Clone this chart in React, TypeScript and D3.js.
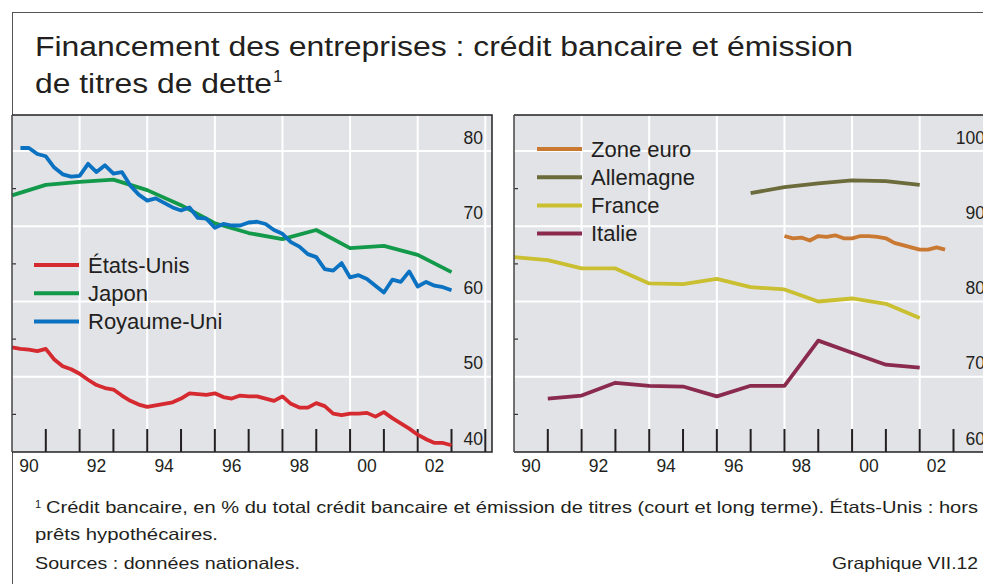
import React from "react";
import * as d3 from "d3";

// --- data ---
const quarterStart = 1990; // first quarterly point
const usaQ = [53.9, 53.7, 53.6, 53.4, 53.7, 52.3, 51.4, 51.0, 50.4, 49.6, 48.9, 48.5, 48.3, 47.5, 46.8, 46.3, 46.0, 46.2, 46.4, 46.6, 47.1, 47.8, 47.7, 47.6, 47.8, 47.3, 47.1, 47.5, 47.4, 47.4, 47.1, 46.8, 47.4, 46.4, 45.9, 45.9, 46.5, 46.1, 45.1, 44.9, 45.1, 45.1, 45.2, 44.7, 45.3, 44.5, 43.8, 43.1, 42.3, 41.7, 41.2, 41.2, 40.9];
const ukStart = 1990.25;
const ukQ = [80.4, 80.4, 79.6, 79.3, 77.8, 76.9, 76.6, 76.7, 78.3, 77.2, 78.1, 77.0, 77.2, 75.4, 74.2, 73.4, 73.7, 73.1, 72.5, 72.1, 72.5, 71.1, 71.0, 69.8, 70.3, 70.1, 70.1, 70.5, 70.6, 70.3, 69.5, 69.0, 67.9, 67.3, 66.3, 65.9, 64.3, 64.1, 65.1, 63.2, 63.5, 63.0, 62.1, 61.2, 62.9, 62.6, 64.0, 62.0, 62.6, 62.1, 61.9, 61.5];
const japanYears = [1990, 1991, 1992, 1993, 1994, 1995, 1996, 1997, 1998, 1999, 2000, 2001, 2002, 2003];
const japanA = [74.1, 75.5, 75.9, 76.2, 74.8, 72.8, 70.4, 69.1, 68.3, 69.5, 67.1, 67.4, 66.2, 63.9];

const franceYears = [1990, 1991, 1992, 1993, 1994, 1995, 1996, 1997, 1998, 1999, 2000, 2001, 2002];
const franceA = [85.9, 85.5, 84.4, 84.4, 82.4, 82.3, 83.0, 81.9, 81.6, 80.0, 80.4, 79.7, 77.8];
const germanyYears = [1997, 1998, 1999, 2000, 2001, 2002];
const germanyA = [94.4, 95.2, 95.7, 96.1, 96.0, 95.5];
const italyYears = [1991, 1992, 1993, 1994, 1995, 1996, 1997, 1998, 1999, 2000, 2001, 2002];
const italyA = [67.1, 67.5, 69.2, 68.8, 68.7, 67.4, 68.8, 68.8, 74.8, 73.2, 71.6, 71.2];
const euroStart = 1998;
const euroQ = [88.7, 88.4, 88.5, 88.1, 88.7, 88.6, 88.8, 88.4, 88.4, 88.7, 88.7, 88.6, 88.4, 87.8, 87.5, 87.2, 86.9, 86.9, 87.2, 86.9];

const yearLabels = [1990, 1992, 1994, 1996, 1998, 2000, 2002];
const leftTicks = [50, 60, 70, 80];
const rightTicks = [70, 80, 90, 100];
const leftMinor = [45, 55, 65, 75];
const rightMinor = [65, 75, 85, 95];

type Pt = [number, number];
const quarterly = (start: number, vals: number[]): Pt[] => vals.map((v, i) => [start + i / 4, v]);
const annual = (years: number[], vals: number[]): Pt[] => vals.map((v, i) => [years[i], v]);

const TEXT = "#231f20";
const FONT = "'Liberation Sans', Arial, sans-serif";
const PANEL = "#e2e3e7";
const TOP = 115;
const BOTTOM = 452;

interface Series { name: string; color: string; pts: Pt[] }

function Panel(props: {
  left: number; right: number; plotEnd: number; labelX: number;
  yDomain: [number, number]; ticks: number[]; minor: number[]; bottomLabel: number;
  series: Series[]; legend: Series[]; legendX: number; legendY: number;
}) {
  const { left, right, plotEnd, labelX, yDomain, ticks, minor, bottomLabel, series, legend, legendX, legendY } = props;
  const x = d3.scaleLinear().domain([1990, 2003]).range([left, plotEnd]);
  const y = d3.scaleLinear().domain(yDomain).range([BOTTOM, 151]);
  const line = d3.line<Pt>().x((d) => x(d[0])).y((d) => y(d[1]));
  const gridYears = d3.range(1992, 2005, 2).filter((yr) => x(yr) < right - 2);
  const tickYears = d3.range(1991, 2005).filter((yr) => x(yr) < right - 2);

  return (
    <g>
      <rect x={left} y={TOP} width={right - left} height={BOTTOM - TOP} fill={PANEL} />
      {gridYears.map((yr) => (
        <line key={"gx" + yr} x1={x(yr)} x2={x(yr)} y1={TOP} y2={BOTTOM} stroke="#fff" strokeWidth={2} />
      ))}
      {ticks.map((t) => (
        <line key={"gy" + t} x1={left} x2={right} y1={y(t)} y2={y(t)} stroke="#fff" strokeWidth={2} />
      ))}
      {minor.map((t) => (
        <line key={"mn" + t} x1={left} x2={left + 4} y1={y(t)} y2={y(t)} stroke="#333" strokeWidth={1.2} />
      ))}
      {tickYears.map((yr) => (
        <line key={"tk" + yr} x1={x(yr)} x2={x(yr)} y1={429} y2={BOTTOM} stroke="#231f20" strokeWidth={2} />
      ))}
      {[...ticks, bottomLabel].map((t) => (
        <text key={"yl" + t} x={labelX} y={y(t) - 7.5} textAnchor="end" fontSize={17.5} fill={TEXT}>
          {t}
        </text>
      ))}
      {series.map((s) => (
        <path key={s.name} d={line(s.pts) || ""} fill="none" stroke={s.color} strokeWidth={3.8}
          strokeLinejoin="round" strokeLinecap="butt" />
      ))}
      {legend.map((s, i) => (
        <g key={"lg" + s.name} transform={`translate(${legendX},${legendY + i * 28.2})`}>
          <line x1={0} x2={45} y1={0} y2={0} stroke={s.color} strokeWidth={4} />
          <text x={54} y={7.5} fontSize={22} fill={TEXT}>{s.name}</text>
        </g>
      ))}
      <path d={`M${left},${TOP}H${right}V${BOTTOM}H${left}`} fill="none" stroke="#222" strokeWidth={1.5} />
      <line x1={left} x2={left} y1={TOP} y2={BOTTOM} stroke="#444" strokeWidth={1.5} />
      {yearLabels.map((yr) => (
        <text key={"xl" + yr} x={x(yr + 0.5)} y={472} textAnchor="middle" fontSize={17.5} fill={TEXT}>
          {String(yr).slice(2)}
        </text>
      ))}
    </g>
  );
}

export default function App() {
  const usa: Series = { name: "États-Unis", color: "#d52a30", pts: quarterly(quarterStart, usaQ) };
  const japan: Series = { name: "Japon", color: "#12994a", pts: annual(japanYears, japanA) };
  const uk: Series = { name: "Royaume-Uni", color: "#0b71c1", pts: quarterly(ukStart, ukQ) };
  const euro: Series = { name: "Zone euro", color: "#c97932", pts: quarterly(euroStart, euroQ) };
  const germany: Series = { name: "Allemagne", color: "#6b6b3b", pts: annual(germanyYears, germanyA) };
  const france: Series = { name: "France", color: "#c9bf30", pts: annual(franceYears, franceA) };
  const italy: Series = { name: "Italie", color: "#8a2b4e", pts: annual(italyYears, italyA) };

  return (
    <svg width={983} height={584} style={{ position: "absolute", left: 0, top: 0, background: "#fff" }}
      fontFamily={FONT}>
      <line x1={12} x2={983} y1={12.5} y2={12.5} stroke="#555" strokeWidth={1} />
      <line x1={12.5} x2={12.5} y1={12} y2={584} stroke="#555" strokeWidth={1} />
      <text x={35} y={56} fontSize={27} fill={TEXT} textLength={818} lengthAdjust="spacingAndGlyphs">
        Financement des entreprises : crédit bancaire et émission
      </text>
      <text x={35} y={93} fontSize={27} fill={TEXT} textLength={237} lengthAdjust="spacingAndGlyphs">
        de titres de dette
      </text>
      <text x={273} y={82} fontSize={17} fill={TEXT}>1</text>

      <Panel left={12} right={492} plotEnd={451.5} labelX={483} yDomain={[40, 80]} ticks={leftTicks}
        minor={leftMinor} bottomLabel={40} series={[usa, japan, uk]} legend={[usa, japan, uk]}
        legendX={34} legendY={265} />
      <Panel left={514} right={1000} plotEnd={953.5} labelX={985} yDomain={[60, 100]} ticks={rightTicks}
        minor={rightMinor} bottomLabel={60} series={[france, germany, italy, euro]}
        legend={[euro, germany, france, italy]} legendX={537} legendY={149} />

      <text x={35} y={508} fontSize={11} fill={TEXT}>1</text>
      <text x={46} y={513} fontSize={16.5} fill={TEXT} textLength={932} lengthAdjust="spacingAndGlyphs">
        Crédit bancaire, en % du total crédit bancaire et émission de titres (court et long terme). États-Unis : hors
      </text>
      <text x={35} y={540} fontSize={16.5} fill={TEXT} textLength={183} lengthAdjust="spacingAndGlyphs">
        prêts hypothécaires.
      </text>
      <text x={35} y={569} fontSize={16.5} fill={TEXT} textLength={265} lengthAdjust="spacingAndGlyphs">
        Sources : données nationales.
      </text>
      <text x={832} y={569} fontSize={16.5} fill={TEXT} textLength={146} lengthAdjust="spacingAndGlyphs">
        Graphique VII.12
      </text>
    </svg>
  );
}
